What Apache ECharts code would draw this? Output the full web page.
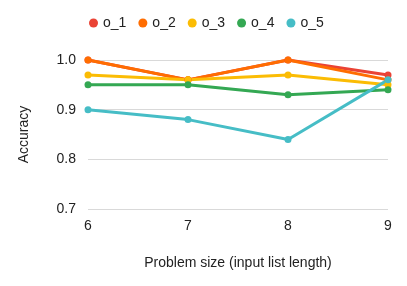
<!DOCTYPE html>
<html><head><meta charset="utf-8">
<script src="https://cdn.jsdelivr.net/npm/echarts@6/dist/echarts.min.js"></script>
<style>html,body{margin:0;padding:0;background:#fff}#c{width:407px;height:286px}</style>
</head><body><div id="c"></div>
<script>
const xValues = [6, 7, 8, 9];
const seriesNames = ['o_1', 'o_2', 'o_3', 'o_4', 'o_5'];
const o_1 = [1.0, 0.96, 1.0, 0.97];
const o_2 = [1.0, 0.96, 1.0, 0.96];
const o_3 = [0.97, 0.96, 0.97, 0.95];
const o_4 = [0.95, 0.95, 0.93, 0.94];
const o_5 = [0.90, 0.88, 0.84, 0.96];
const yTicks = [0.7, 0.8, 0.9, 1.0];
const colors = ['#EA4335', '#FF6D01', '#FBBC04', '#34A853', '#46BDC6'];
const allData = [o_1, o_2, o_3, o_4, o_5];
const font = 'Arial, "Liberation Sans", sans-serif';
const chart = echarts.init(document.getElementById('c'), null, {renderer: 'canvas'});
chart.setOption({
  animation: false,
  color: colors,
  legend: {
    data: seriesNames, top: 11, left: 84, icon: 'circle', itemWidth: 9, itemHeight: 9, itemGap: 12,
    textStyle: {fontFamily: font, fontSize: 14, color: '#222'}
  },
  grid: {left: 88, right: 19, top: 60, bottom: 77},
  xAxis: {
    type: 'value', min: 6, max: 9, interval: 1,
    name: 'Problem size (input list length)', nameLocation: 'middle', nameGap: 47,
    nameTextStyle: {fontFamily: font, fontSize: 14, color: '#222'},
    axisLine: {show: false}, axisTick: {show: false}, splitLine: {show: false},
    axisLabel: {fontFamily: font, fontSize: 14, color: '#222', margin: 10}
  },
  yAxis: {
    type: 'value', min: yTicks[0], max: yTicks[yTicks.length - 1], interval: 0.1,
    name: 'Accuracy', nameLocation: 'middle', nameGap: 57, nameRotate: 90,
    nameTextStyle: {fontFamily: font, fontSize: 14, color: '#222'},
    axisLine: {show: false}, axisTick: {show: false},
    splitLine: {lineStyle: {color: '#d9d9d9', width: 1}},
    axisLabel: {fontFamily: font, fontSize: 14, color: '#222', margin: 12, formatter: v => v.toFixed(1)}
  },
  series: seriesNames.map((n, i) => ({
    name: n, type: 'line', data: xValues.map((x, j) => [x, allData[i][j]]),
    symbol: 'circle', symbolSize: 7, lineStyle: {width: 3}
  }))
});
</script></body></html>
